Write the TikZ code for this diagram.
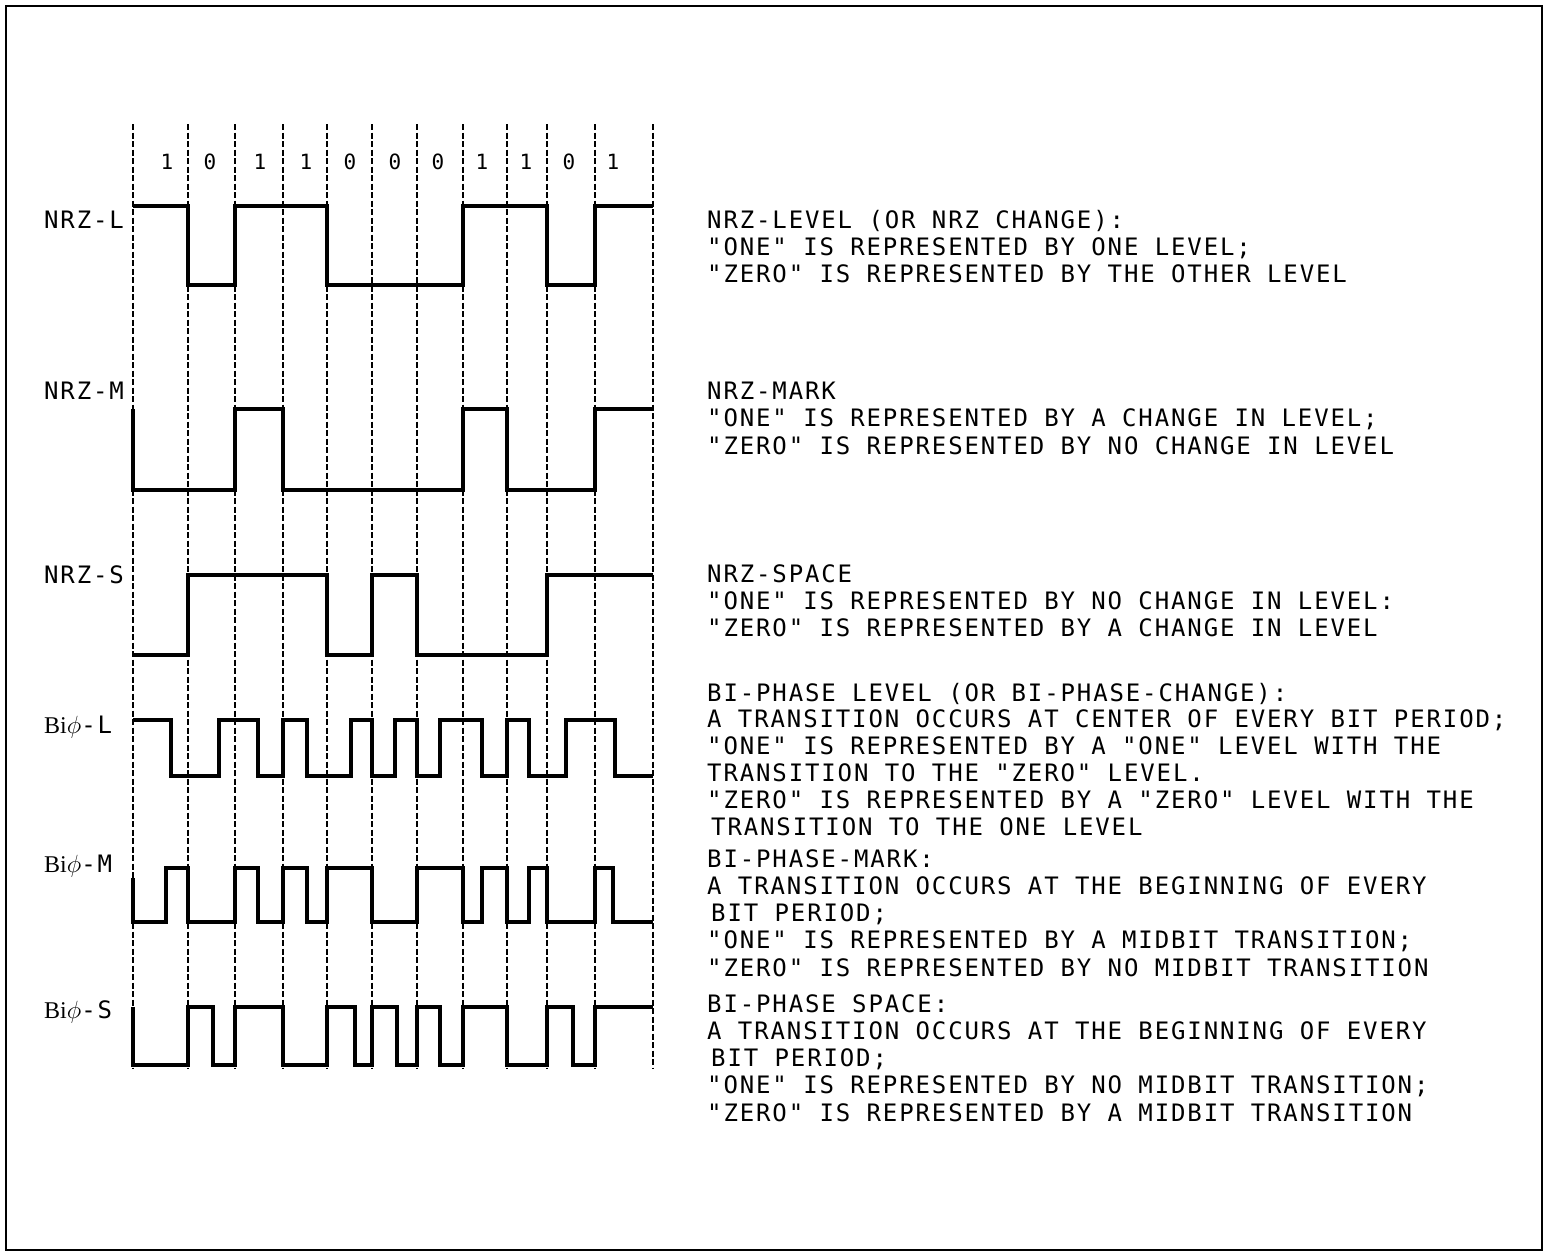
\documentclass[tikz,border=0pt]{standalone}
\usepackage{fontspec}
\newfontfamily\cadfont{DejaVu Sans Mono}[LetterSpace=7.8]
\newfontfamily\bifont{Liberation Serif}
\usetikzlibrary{positioning}
\tikzset{
  wave/.style={line width=3.4pt, line join=miter},
  bitline/.style={line width=1.3pt, dash pattern=on 6pt off 2.5pt},
  bitlabel/.style={inner sep=0pt, font=\cadfont\fontsize{21}{21}\selectfont},
  signame/.style={anchor=base west, inner sep=0pt,
    font=\cadfont\fontsize{24}{27}\selectfont},
  desc/.style={anchor=base west, inner sep=0pt,
    font=\cadfont\fontsize{24}{27}\selectfont},
}
\newcommand{\biphi}{{\bifont\fontsize{24}{27}\selectfont Bi$\phi$}}

\begin{document}
\begin{tikzpicture}[x=1pt, y=-1pt]
  \useasboundingbox (0,0) rectangle (1549,1255);
  \draw[line width=2pt] (6,6) rectangle (1542,1250);

  % bit cells
  \foreach \x [count=\i from 0] in {133,188,235,283,327,372,417,463,507,547,595,653}
    {\coordinate (t\i) at (\x,124);
     \draw[bitline] (t\i) -- (t\i |- 0,1068);}
  \foreach \b/\x [count=\i] in {1/167,0/210,1/260,1/306,0/350,0/395,0/438,1/482,1/526,0/569,1/613}
    \node[bitlabel] (bit\i) at (\x,162) {\b};

  % signal names
  \node[signame] (nrzl) at (44,228) {NRZ-L};
  \node[signame] (nrzm) at (44,399) {NRZ-M};
  \node[signame] (nrzs) at (44,583) {NRZ-S};
  \node[signame] (bil) at (44,733) {\biphi-L};
  \node[signame] (bim) at (44,872) {\biphi-M};
  \node[signame] (bis) at (44,1018) {\biphi-S};

  % waveforms
  \draw[wave] (133,206) -| (188,285) -| (235,206) -| (327,285) -| (463,206)
    -| (547,285) -| (595,206) -- (653,206);
  \draw[wave] (133,409) -- (133,490) -| (235,409) -| (283,490) -| (463,409)
    -| (507,490) -| (595,409) -- (653,409);
  \draw[wave] (133,655) -| (188,575) -| (327,655) -| (372,575) -| (417,655)
    -| (547,575) -- (653,575);
  \draw[wave] (133,720) -| (171,776) -| (219,720) -| (258,776) -| (283,720)
    -| (307,776) -| (351,720) -| (372,776) -| (395,720) -| (417,776)
    -| (440,720) -| (482,776) -| (507,720) -| (529,776) -| (566,720)
    -| (615,776) -- (653,776);
  \draw[wave] (133,878) -- (133,922) -| (166,868) -| (188,922) -| (235,868)
    -| (258,922) -| (283,868) -| (307,922) -| (327,868) -| (372,922)
    -| (417,868) -| (463,922) -| (482,868) -| (507,922) -| (529,868)
    -| (547,922) -| (595,868) -| (613,922) -- (653,922);
  \draw[wave] (133,1007) -- (133,1065) -| (188,1007) -| (213,1065) -| (235,1007)
    -| (283,1065) -| (327,1007) -| (355,1065) -| (372,1007) -| (397,1065)
    -| (417,1007) -| (440,1065) -| (463,1007) -| (507,1065) -| (547,1007)
    -| (573,1065) -| (595,1007) -- (653,1007);

  % descriptions
  \foreach \t [count=\i from 0] in {{NRZ-LEVEL (OR NRZ CHANGE):},
      {"ONE" IS REPRESENTED BY ONE LEVEL;},
      {"ZERO" IS REPRESENTED BY THE OTHER LEVEL}}
    \node[desc] (dl\i) at (707,228+27.3*\i) {\t};
  \foreach \t [count=\i from 0] in {{NRZ-MARK},
      {"ONE" IS REPRESENTED BY A CHANGE IN LEVEL;},
      {"ZERO" IS REPRESENTED BY NO CHANGE IN LEVEL}}
    \node[desc] (dm\i) at (707,399+27.6*\i) {\t};
  \foreach \t [count=\i from 0] in {{NRZ-SPACE},
      {"ONE" IS REPRESENTED BY NO CHANGE IN LEVEL:},
      {"ZERO" IS REPRESENTED BY A CHANGE IN LEVEL}}
    \node[desc] (ds\i) at (707,582+27.3*\i) {\t};
  \foreach \t [count=\i from 0] in {{BI-PHASE LEVEL (OR BI-PHASE-CHANGE):},
      {A TRANSITION OCCURS AT CENTER OF EVERY BIT PERIOD;},
      {"ONE" IS REPRESENTED BY A "ONE" LEVEL WITH THE},
      {TRANSITION TO THE "ZERO" LEVEL.},
      {"ZERO" IS REPRESENTED BY A "ZERO" LEVEL WITH THE},
      {\hspace{4pt}TRANSITION TO THE ONE LEVEL}}
    \node[desc] (dbl\i) at (707,701+26.8*\i) {\t};
  \foreach \t [count=\i from 0] in {{BI-PHASE-MARK:},
      {A TRANSITION OCCURS AT THE BEGINNING OF EVERY},
      {\hspace{4pt}BIT PERIOD;},
      {"ONE" IS REPRESENTED BY A MIDBIT TRANSITION;},
      {"ZERO" IS REPRESENTED BY NO MIDBIT TRANSITION}}
    \node[desc] (dbm\i) at (707,867+27.3*\i) {\t};
  \foreach \t [count=\i from 0] in {{BI-PHASE SPACE:},
      {A TRANSITION OCCURS AT THE BEGINNING OF EVERY},
      {\hspace{4pt}BIT PERIOD;},
      {"ONE" IS REPRESENTED BY NO MIDBIT TRANSITION;},
      {"ZERO" IS REPRESENTED BY A MIDBIT TRANSITION}}
    \node[desc] (dbs\i) at (707,1012+27.3*\i) {\t};
\end{tikzpicture}
\end{document}
